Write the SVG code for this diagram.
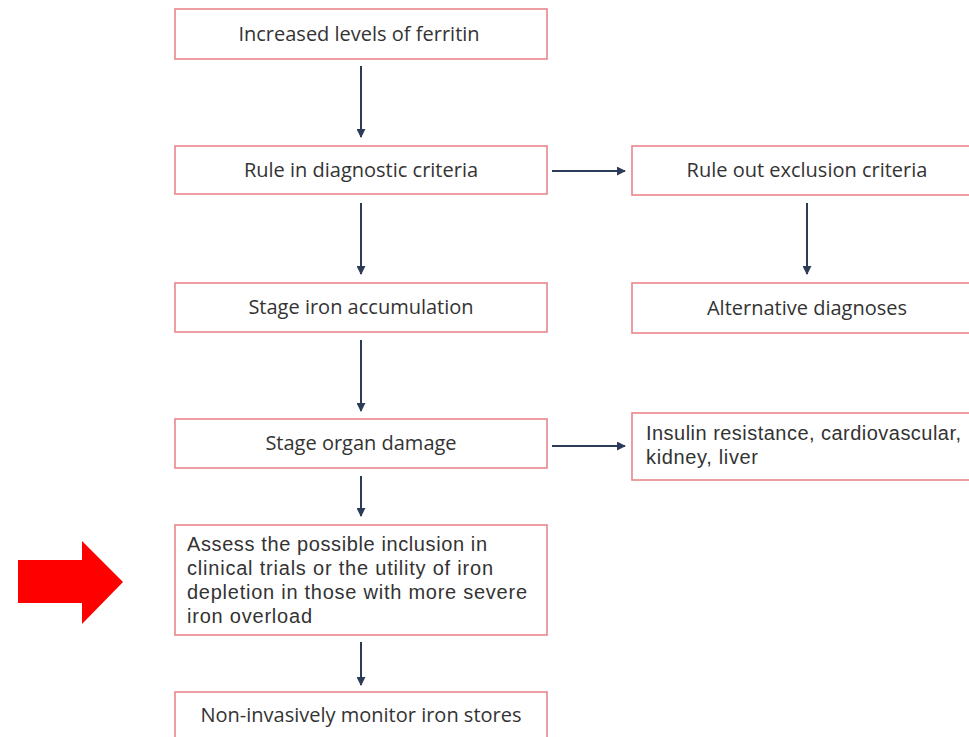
<svg xmlns="http://www.w3.org/2000/svg" width="969" height="737" viewBox="0 0 969 737">
<style>
.box{fill:#ffffff;stroke:#e8868c;stroke-width:1.6}
.t{font-family:"Open Sans","Liberation Sans",sans-serif;font-size:20px;font-weight:500;fill:#333333}
.m{font-family:"Liberation Sans","Open Sans",sans-serif;font-size:20px;fill:#333333}
.c{text-anchor:middle}
.ln{stroke:#2c3b57;stroke-width:2;fill:none}
</style>
<defs>
<marker id="ah" viewBox="0 0 10 10" refX="9" refY="5" markerWidth="4.5" markerHeight="4.5" orient="auto" markerUnits="strokeWidth">
<path d="M0,0 L10,5 L0,10 Z" fill="#2c3b57"/>
</marker>
</defs>
<rect width="969" height="737" fill="#ffffff"/>
<g id="n1"><rect class="box" x="175" y="9" width="372" height="50"/><text class="t c" x="359" y="41">Increased levels of ferritin</text></g>
<g id="n2"><rect class="box" x="175" y="146" width="372" height="48"/><text class="t c" x="361" y="177">Rule in diagnostic criteria</text></g>
<g id="n3"><rect class="box" x="175" y="283" width="372" height="49"/><text class="t c" x="361" y="314">Stage iron accumulation</text></g>
<g id="n4"><rect class="box" x="175" y="419" width="372" height="49"/><text class="t c" x="361" y="450">Stage organ damage</text></g>
<g id="n5"><rect class="box" x="175" y="525" width="372" height="110"/>
<text class="m" x="187" y="551" textLength="300" lengthAdjust="spacing">Assess the possible inclusion in</text>
<text class="m" x="187" y="575" textLength="306" lengthAdjust="spacing">clinical trials or the utility of iron</text>
<text class="m" x="187" y="599" textLength="340" lengthAdjust="spacing">depletion in those with more severe</text>
<text class="m" x="187" y="623" textLength="125" lengthAdjust="spacing">iron overload</text></g>
<g id="n6"><rect class="box" x="175" y="692" width="372" height="52"/><text class="t c" x="361" y="722">Non-invasively monitor iron stores</text></g>
<g id="r1"><rect class="box" x="632" y="146" width="345" height="49"/><text class="t c" x="807" y="177">Rule out exclusion criteria</text></g>
<g id="r2"><rect class="box" x="632" y="283" width="345" height="50"/><text class="t c" x="807" y="315">Alternative diagnoses</text></g>
<g id="r3"><rect class="box" x="632" y="413" width="345" height="67"/>
<text class="m" x="646" y="440" textLength="315" lengthAdjust="spacing">Insulin resistance, cardiovascular,</text>
<text class="m" x="646" y="464" textLength="112" lengthAdjust="spacing">kidney, liver</text></g>
<g id="connectors">
<line class="ln" x1="361" y1="66" x2="361" y2="137" marker-end="url(#ah)"/>
<line class="ln" x1="361" y1="203" x2="361" y2="274" marker-end="url(#ah)"/>
<line class="ln" x1="361" y1="340" x2="361" y2="411" marker-end="url(#ah)"/>
<line class="ln" x1="361" y1="476" x2="361" y2="516" marker-end="url(#ah)"/>
<line class="ln" x1="361" y1="642" x2="361" y2="685" marker-end="url(#ah)"/>
<line class="ln" x1="807" y1="203" x2="807" y2="274" marker-end="url(#ah)"/>
<line class="ln" x1="552" y1="171" x2="625" y2="171" marker-end="url(#ah)"/>
<line class="ln" x1="552" y1="446" x2="625" y2="446" marker-end="url(#ah)"/>
</g>
<g id="red-arrow"><polygon points="18,560 82,560 82,541 123,582 82,624 82,603 18,603" fill="#ff0000"/></g>
</svg>
